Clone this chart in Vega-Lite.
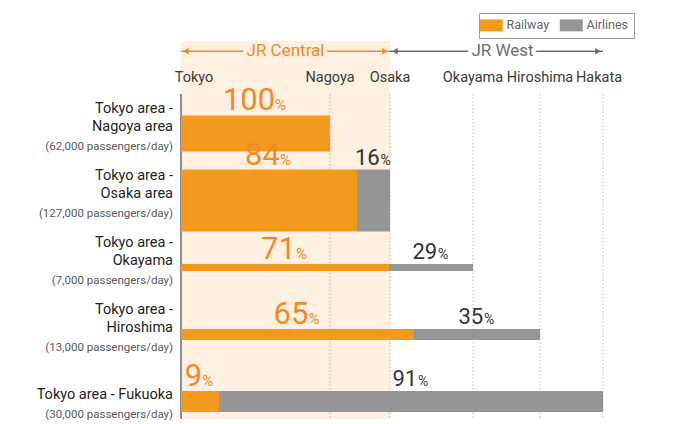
{
  "$schema": "https://vega.github.io/schema/vega-lite/v6.json",
  "padding": {"left": 36, "top": 12, "right": 5, "bottom": 4},
  "background": "white",
  "spacing": 0,
  "bounds": "flush",
  "config": {"view": {"stroke": null}, "font": "Roboto", "text": {"font": "Roboto"}},
  "resolve": {"scale": {"x": "shared"}},
  "datasets": {
    "stations": [
      {"station": "Tokyo", "pos": 0},
      {"station": "Nagoya", "pos": 149},
      {"station": "Osaka", "pos": 209},
      {"station": "Okayama", "pos": 292},
      {"station": "Hiroshima", "pos": 359},
      {"station": "Hakata", "pos": 422}
    ],
    "companies": [
      {"company": "JR Central", "from": 0, "to": 209},
      {"company": "JR West", "from": 209, "to": 422}
    ],
    "routes": [
      {"route": "Tokyo area - Nagoya area", "name": ["Tokyo area -", "Nagoya area"], "note": "(62,000 passengers/day)", "passengers": 62000},
      {"route": "Tokyo area - Osaka area", "name": ["Tokyo area -", "Osaka area"], "note": "(127,000 passengers/day)", "passengers": 127000},
      {"route": "Tokyo area - Okayama", "name": ["Tokyo area -", "Okayama"], "note": "(7,000 passengers/day)", "passengers": 7000},
      {"route": "Tokyo area - Hiroshima", "name": ["Tokyo area -", "Hiroshima"], "note": "(13,000 passengers/day)", "passengers": 13000},
      {"route": "Tokyo area - Fukuoka", "name": ["Tokyo area - Fukuoka"], "note": "(30,000 passengers/day)", "passengers": 30000}
    ],
    "segments": [
      {"route": "Tokyo area - Nagoya area", "mode": "Railway", "start": 0, "end": 149, "share": "100", "passengers": 62000},
      {"route": "Tokyo area - Osaka area", "mode": "Railway", "start": 0, "end": 176, "share": "84", "passengers": 127000},
      {"route": "Tokyo area - Osaka area", "mode": "Airlines", "start": 176, "end": 209, "share": "16", "passengers": 127000},
      {"route": "Tokyo area - Okayama", "mode": "Railway", "start": 0, "end": 208, "share": "71", "passengers": 7000},
      {"route": "Tokyo area - Okayama", "mode": "Airlines", "start": 208, "end": 292, "share": "29", "passengers": 7000},
      {"route": "Tokyo area - Hiroshima", "mode": "Railway", "start": 0, "end": 233, "share": "65", "passengers": 13000},
      {"route": "Tokyo area - Hiroshima", "mode": "Airlines", "start": 233, "end": 359, "share": "35", "passengers": 13000},
      {"route": "Tokyo area - Fukuoka", "mode": "Railway", "start": 0, "end": 38, "share": "9", "passengers": 30000},
      {"route": "Tokyo area - Fukuoka", "mode": "Airlines", "start": 38, "end": 422, "share": "91", "passengers": 30000}
    ]
  },
  "vconcat": [
    {
      "width": 422,
      "height": 53,
      "layer": [
        {
          "data": {"name": "companies"},
          "transform": [{"filter": "datum.company === 'JR Central'"}],
          "mark": {"type": "rect", "color": "#fdf0e1"},
          "encoding": {
            "x": {"field": "from", "type": "quantitative", "scale": {"domain": [0, 422], "nice": false, "zero": false}, "axis": null},
            "x2": {"field": "to"}
          }
        },
        {
          "data": {"name": "companies"},
          "mark": {"type": "rule", "strokeWidth": 1.3},
          "encoding": {
            "x": {"field": "from", "type": "quantitative", "axis": null},
            "x2": {"field": "to"},
            "y": {"datum": "company", "type": "nominal", "scale": {"domain": ["company", "station"], "range": [-3, 50], "paddingInner": 0, "paddingOuter": 0}, "axis": null},
            "stroke": {"field": "company", "type": "nominal", "scale": {"domain": ["JR Central", "JR West"], "range": ["#ef8a2a", "#6d6d6d"]}, "legend": null}
          }
        },
        {
          "data": {"name": "companies"},
          "mark": {"type": "point", "shape": "triangle-left", "filled": true, "size": 40, "opacity": 1, "xOffset": 5},
          "encoding": {
            "x": {"field": "from", "type": "quantitative", "axis": null},
            "y": {"datum": "company", "type": "nominal"},
            "fill": {"field": "company", "type": "nominal", "scale": {"domain": ["JR Central", "JR West"], "range": ["#ef8a2a", "#6d6d6d"]}, "legend": null}
          }
        },
        {
          "data": {"name": "companies"},
          "mark": {"type": "point", "shape": "triangle-right", "filled": true, "size": 40, "opacity": 1, "xOffset": -5},
          "encoding": {
            "x": {"field": "to", "type": "quantitative", "axis": null},
            "y": {"datum": "company", "type": "nominal"},
            "fill": {"field": "company", "type": "nominal", "legend": null}
          }
        },
        {
          "data": {"name": "companies"},
          "transform": [{"calculate": "(datum.from + datum.to) / 2", "as": "mid"}, {"filter": "datum.company === 'JR Central'"}],
          "mark": {"type": "text", "fontSize": 17, "baseline": "middle", "fill": "#fdf0e1", "stroke": "#fdf0e1", "strokeWidth": 8, "strokeJoin": "round"},
          "encoding": {
            "x": {"field": "mid", "type": "quantitative", "axis": null},
            "y": {"datum": "company", "type": "nominal"},
            "text": {"field": "company"}
          }
        },
        {
          "data": {"name": "companies"},
          "transform": [{"calculate": "(datum.from + datum.to) / 2", "as": "mid"}, {"filter": "datum.company === 'JR West'"}],
          "mark": {"type": "text", "fontSize": 17, "baseline": "middle", "fill": "white", "stroke": "white", "strokeWidth": 8, "strokeJoin": "round", "dx": 6},
          "encoding": {
            "x": {"field": "mid", "type": "quantitative", "axis": null},
            "y": {"datum": "company", "type": "nominal"},
            "text": {"field": "company"}
          }
        },
        {
          "data": {"name": "companies"},
          "transform": [{"calculate": "(datum.from + datum.to) / 2", "as": "mid"}],
          "mark": {"type": "text", "fontSize": 17, "baseline": "middle", "dx": {"expr": "datum.company === 'JR West' ? 6 : 0"}},
          "encoding": {
            "x": {"field": "mid", "type": "quantitative", "axis": null},
            "y": {"datum": "company", "type": "nominal"},
            "text": {"field": "company"},
            "fill": {"field": "company", "type": "nominal", "legend": null}
          }
        },
        {
          "data": {"name": "stations"},
          "mark": {"type": "text", "fontSize": 14.5, "baseline": "middle", "fill": "#3a3a3a", "dx": {"expr": "datum.pos === 0 ? 13 : (datum.pos === 422 ? -4 : 0)"}},
          "encoding": {
            "x": {"field": "pos", "type": "quantitative", "axis": null},
            "y": {"datum": "station", "type": "nominal"},
            "text": {"field": "station"}
          }
        }
      ]
    },
    {
      "width": 422,
      "height": 325,
      "layer": [
        {
          "data": {"name": "companies"},
          "transform": [{"filter": "datum.company === 'JR Central'"}],
          "mark": {"type": "rect", "color": "#fdf0e1"},
          "encoding": {
            "x": {"field": "from", "type": "quantitative", "scale": {"domain": [0, 422], "nice": false, "zero": false}, "axis": null},
            "x2": {"field": "to"}
          }
        },
        {
          "data": {"name": "stations"},
          "transform": [{"filter": "datum.pos > 0"}],
          "mark": {"type": "rule", "color": "#b8b8b8", "strokeWidth": 1, "strokeDash": [1.5, 2]},
          "encoding": {"x": {"field": "pos", "type": "quantitative", "axis": null}}
        },
        {
          "data": {"name": "stations"},
          "transform": [{"filter": "datum.pos === 0"}],
          "mark": {"type": "rule", "color": "#6a6a6a", "strokeWidth": 1.5},
          "encoding": {"x": {"field": "pos", "type": "quantitative", "axis": null}}
        },
        {
          "data": {"name": "segments"},
          "mark": {"type": "bar"},
          "encoding": {
            "x": {"field": "start", "type": "quantitative", "axis": null},
            "x2": {"field": "end"},
            "y": {"field": "route", "type": "nominal", "scale": {"domain": ["Tokyo area - Nagoya area", "Tokyo area - Osaka area", "Tokyo area - Okayama", "Tokyo area - Hiroshima", "Tokyo area - Fukuoka"], "range": [6, 341], "paddingInner": 0, "paddingOuter": 0}, "axis": null},
            "size": {"field": "passengers", "type": "quantitative", "scale": {"type": "pow", "exponent": 0.75, "domain": [0, 127000], "range": [0, 62]}, "legend": null},
            "color": {
              "field": "mode", "type": "nominal",
              "scale": {"domain": ["Railway", "Airlines"], "range": ["#f39a1e", "#959595"]},
              "legend": {
                "title": null, "orient": "none", "legendX": 298, "legendY": -28, "direction": "horizontal",
                "symbolType": "M-1.92,-1H1.92V1H-1.92Z", "symbolSize": 144, "symbolStrokeWidth": 0,
                "labelFontSize": 12.5, "labelColor": "#666666", "labelFont": "Roboto", "labelOffset": 9,
                "columnPadding": 9, "padding": 6, "strokeColor": "#999999", "fillColor": "white"
              }
            }
          }
        },
        {
          "data": {"name": "segments"},
          "transform": [{"calculate": "(datum.start + datum.end) / 2", "as": "mid"}, {"filter": "datum.mode === 'Railway'"}],
          "mark": {"type": "text", "fontSize": 31, "fill": "#ef8a2a", "align": "left", "baseline": "alphabetic", "dx": {"expr": "-(8.7 * length(datum.share) + 6.5)"}},
          "encoding": {
            "x": {"field": "mid", "type": "quantitative", "axis": null},
            "y": {"field": "route", "type": "nominal"},
            "yOffset": {"field": "passengers", "type": "quantitative", "scale": {"type": "pow", "exponent": 0.75, "domain": [0, 127000], "range": [28.5, -2.5]}},
            "text": {"field": "share"}
          }
        },
        {
          "data": {"name": "segments"},
          "transform": [{"calculate": "(datum.start + datum.end) / 2", "as": "mid"}, {"filter": "datum.mode === 'Railway'"}],
          "mark": {"type": "text", "fontSize": 15, "fill": "#ef8a2a", "align": "left", "baseline": "alphabetic", "dx": {"expr": "8.7 * length(datum.share) - 6.5"}},
          "encoding": {
            "x": {"field": "mid", "type": "quantitative", "axis": null},
            "y": {"field": "route", "type": "nominal"},
            "yOffset": {"field": "passengers", "type": "quantitative"},
            "text": {"value": "%"}
          }
        },
        {
          "data": {"name": "segments"},
          "transform": [{"calculate": "(datum.start + datum.end) / 2", "as": "mid"}, {"filter": "datum.mode === 'Airlines'"}],
          "mark": {"type": "text", "fontSize": 22, "fill": "#333333", "align": "left", "baseline": "alphabetic", "dx": {"expr": "-(6.2 * length(datum.share) + 6.1)"}},
          "encoding": {
            "x": {"field": "mid", "type": "quantitative", "axis": null},
            "y": {"field": "route", "type": "nominal"},
            "yOffset": {"field": "passengers", "type": "quantitative"},
            "text": {"field": "share"}
          }
        },
        {
          "data": {"name": "segments"},
          "transform": [{"calculate": "(datum.start + datum.end) / 2", "as": "mid"}, {"filter": "datum.mode === 'Airlines'"}],
          "mark": {"type": "text", "fontSize": 14, "fill": "#333333", "align": "left", "baseline": "alphabetic", "dx": {"expr": "6.2 * length(datum.share) - 5.5"}},
          "encoding": {
            "x": {"field": "mid", "type": "quantitative", "axis": null},
            "y": {"field": "route", "type": "nominal"},
            "yOffset": {"field": "passengers", "type": "quantitative"},
            "text": {"value": "%"}
          }
        },
        {
          "data": {"name": "routes"},
          "mark": {"type": "text", "fontSize": 14.5, "fill": "#231f20", "align": "right", "baseline": "middle", "dx": -8, "dy": {"expr": "-7 - 18 * (length(datum.name) - 1)"}, "lineHeight": 18},
          "encoding": {
            "x": {"datum": 0, "type": "quantitative", "axis": null},
            "y": {"field": "route", "type": "nominal"},
            "text": {"field": "name"}
          }
        },
        {
          "data": {"name": "routes"},
          "mark": {"type": "text", "fontSize": 11.5, "fill": "#58595b", "align": "right", "baseline": "middle", "dx": -8, "dy": 13},
          "encoding": {
            "x": {"datum": 0, "type": "quantitative", "axis": null},
            "y": {"field": "route", "type": "nominal"},
            "text": {"field": "note"}
          }
        }
      ]
    }
  ]
}
